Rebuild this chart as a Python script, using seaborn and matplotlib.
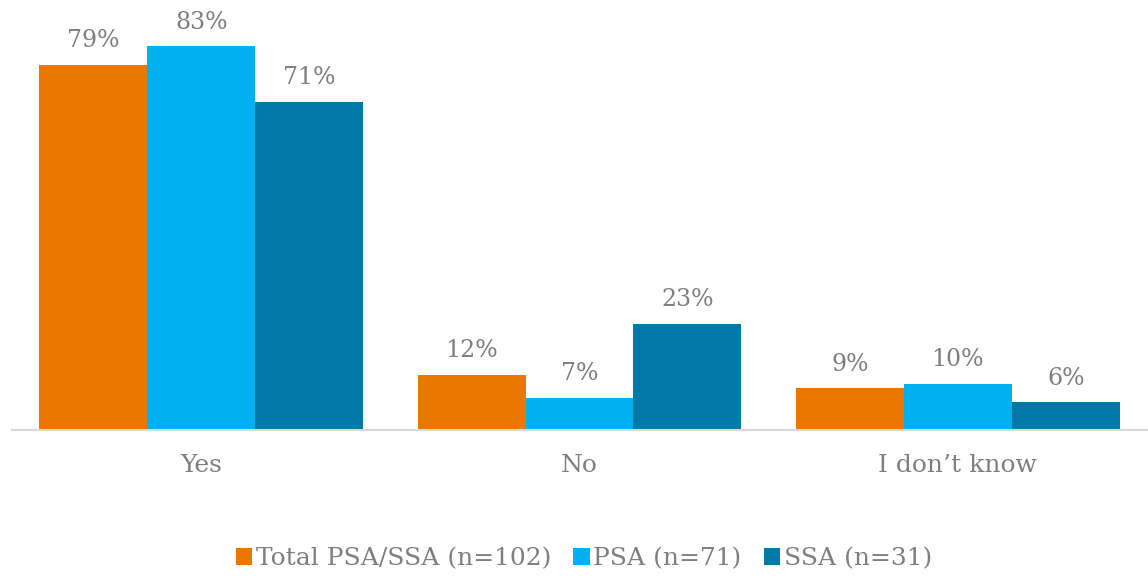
import pandas as pd
import matplotlib.pyplot as plt
import seaborn as sns

# данные
categories = ["Yes", "No", "I don\u2019t know"]
series = ["Total PSA/SSA (n=102)", "PSA (n=71)", "SSA (n=31)"]
total_vals = [79, 12, 9]
psa_vals = [83, 7, 10]
ssa_vals = [71, 23, 6]
colors = ["#E87800", "#00B0F0", "#0078A8"]

df = pd.DataFrame({
    "answer": categories * 3,
    "group": [series[0]] * 3 + [series[1]] * 3 + [series[2]] * 3,
    "value": total_vals + psa_vals + ssa_vals,
})

sns.set_theme(style="white")
plt.rcParams["font.family"] = ["DejaVu Serif"]
gray = "#7F7F7F"

fig = plt.figure(figsize=(11.48, 5.76), dpi=100)
ax = fig.add_axes([12 / 1148, 146 / 576, 1135 / 1148, 430 / 576])

sns.barplot(data=df, x="answer", y="value", hue="group", order=categories,
            hue_order=series, palette=colors, width=0.855, gap=0,
            linewidth=0, saturation=1, ax=ax)

for cont in ax.containers:
    ax.bar_label(cont, labels=[f"{v:.0f}%" for v in cont.datavalues],
                 padding=9, color=gray, fontsize=17)

ax.set_ylim(0, 93)
ax.set_xlim(-0.5, 2.5)
ax.set_yticks([])
ax.set_xlabel("")
ax.set_ylabel("")
for s in ["top", "right", "left"]:
    ax.spines[s].set_visible(False)
ax.spines["bottom"].set_color("#D9D9D9")
ax.spines["bottom"].set_linewidth(1.5)
ax.tick_params(axis="x", length=0, pad=17, labelsize=18, labelcolor=gray)

handles, labels = ax.get_legend_handles_labels()
ax.legend(handles, labels, loc="center", bbox_to_anchor=(0.504, -0.3),
          ncol=3, frameon=False, fontsize=18, labelcolor=gray,
          handlelength=0.65, handleheight=0.65, handletextpad=0.15,
          columnspacing=0.9)

fig.savefig("out.png", dpi=100)
